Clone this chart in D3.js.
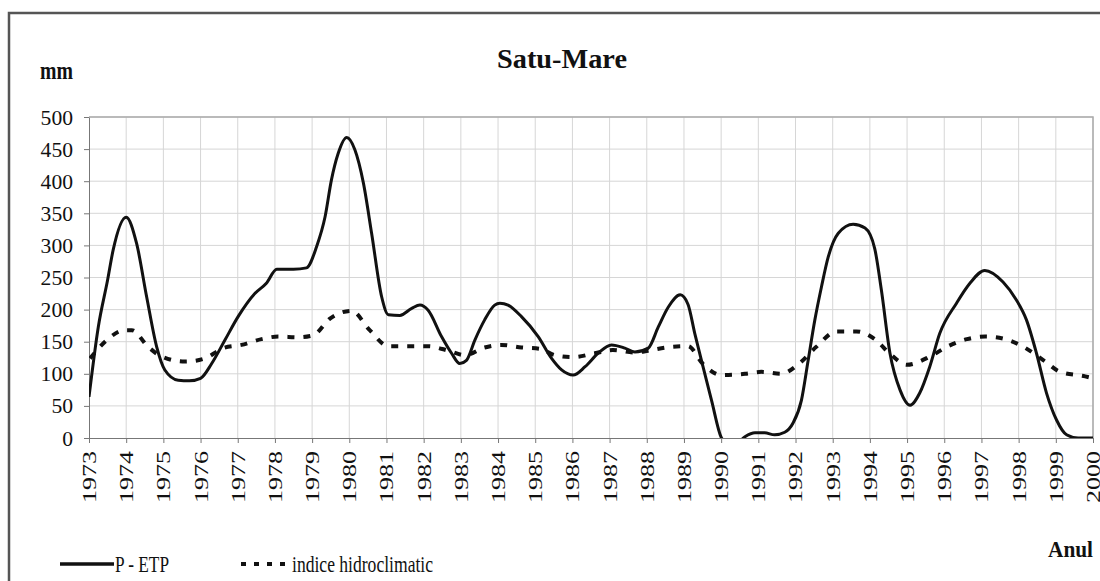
<!DOCTYPE html>
<html lang="ro">
<head>
<meta charset="UTF-8">
<title>Satu-Mare</title>
<script src="https://d3js.org/d3.v7.min.js"></script>
<style>
  body { margin: 0; background: #fff; }
  svg text { font-family: "Liberation Serif", "DejaVu Serif", serif; fill: #111; }
</style>
</head>
<body>
<div id="chart"></div>
<script>
// valori (an zecimal, mm)
const pEtpYears = [1973.00, 1973.25, 1973.50, 1973.65, 1974.00, 1974.28, 1974.55, 1974.82, 1975.04, 1975.40,
  1975.70, 1976.00, 1976.30, 1976.66, 1977.01, 1977.46, 1977.77, 1978.05, 1978.50, 1978.85,
  1979.12, 1979.35, 1979.52, 1979.70, 1979.93, 1980.15, 1980.38, 1980.60, 1980.87, 1981.05,
  1981.36, 1981.68, 1981.90, 1982.12, 1982.48, 1982.75, 1982.97, 1983.15, 1983.38, 1983.64,
  1983.91, 1984.05, 1984.27, 1984.63, 1985.08, 1985.44, 1985.71, 1986.02, 1986.34, 1986.69,
  1987.05, 1987.41, 1987.68, 1988.04, 1988.31, 1988.58, 1988.90, 1989.11, 1989.29, 1989.47,
  1989.74, 1990.01, 1990.30, 1990.64, 1990.91, 1991.17, 1991.44, 1991.71, 1991.93, 1992.16,
  1992.34, 1992.52, 1992.70, 1992.88, 1993.15, 1993.55, 1993.87, 1994.13, 1994.31, 1994.54,
  1994.81, 1995.08, 1995.34, 1995.61, 1995.88, 1996.33, 1996.69, 1997.09, 1997.58, 1997.94,
  1998.21, 1998.48, 1998.75, 1999.02, 1999.29, 1999.60, 2000.00];
const pEtpValues = [64, 173, 246, 293, 344, 303, 220, 142, 106, 90,
  89, 93, 116, 153, 189, 225, 241, 263, 263, 265,
  298, 345, 402, 443, 468, 449, 397, 319, 220, 192,
  191, 202, 207, 199, 158, 132, 116, 121, 153, 184,
  207, 210, 207, 189, 158, 124, 106, 98, 111, 132,
  145, 140, 134, 140, 173, 204, 223, 208, 163, 121,
  59, 0, -15, 2, 8, 8, 5, 9, 23, 59,
  121, 184, 236, 282, 319, 333, 327, 295, 230, 132,
  75, 51, 70, 111, 163, 210, 241, 261, 243, 215,
  184, 132, 70, 28, 5, 0, 0];

const indiceYears = [1973.03, 1973.43, 1973.97, 1974.15, 1974.59, 1974.95, 1975.58, 1976.12, 1976.61, 1977.10,
  1977.64, 1978.09, 1978.63, 1979.03, 1979.48, 1980.06, 1980.55, 1981.05, 1981.59, 1982.12,
  1982.66, 1983.11, 1983.64, 1984.09, 1984.63, 1985.12, 1985.53, 1986.02, 1986.60, 1987.09,
  1987.68, 1988.04, 1988.67, 1989.11, 1989.50, 1990.00, 1990.64, 1991.08, 1991.62, 1992.06,
  1992.56, 1993.10, 1993.64, 1994.13, 1994.58, 1994.99, 1995.62, 1996.07, 1996.61, 1997.10,
  1997.64, 1998.13, 1998.67, 1999.12, 1999.79, 2000.00];
const indiceValues = [124, 150, 168, 168, 142, 127, 119, 124, 140, 145,
  154, 158, 157, 160, 186, 198, 168, 143, 143, 143,
  136, 129, 141, 145, 141, 139, 129, 126, 132, 137,
  133, 136, 142, 143, 116, 98, 100, 103, 100, 114,
  142, 166, 166, 154, 129, 114, 127, 142, 154, 158,
  154, 142, 121, 103, 96, 93];

const yearTicks = d3.range(1973, 2001);
const yTicks = d3.range(0, 501, 50);

const W = 1100, H = 581;
const plot = { left: 89, right: 1093, top: 117, bottom: 438 };

const svg = d3.select("#chart").append("svg")
    .attr("width", W)
    .attr("height", H);

// cadrul exterior
svg.append("rect")
    .attr("x", 9).attr("y", 13)
    .attr("width", 1100).attr("height", 600)
    .attr("fill", "none")
    .attr("stroke", "#555")
    .attr("stroke-width", 2.5);

const x = d3.scaleLinear().domain([1973, 2000]).range([plot.left, plot.right]);
const y = d3.scaleLinear().domain([0, 500]).range([plot.bottom, plot.top]);

// grila
svg.append("g")
    .selectAll("line")
    .data(yTicks.slice(1))
    .join("line")
    .attr("x1", plot.left).attr("x2", plot.right)
    .attr("y1", d => y(d)).attr("y2", d => y(d))
    .attr("stroke", "#d6d6d6").attr("stroke-width", 1);

svg.append("g")
    .selectAll("line")
    .data(yearTicks.slice(1))
    .join("line")
    .attr("x1", d => x(d)).attr("x2", d => x(d))
    .attr("y1", plot.top).attr("y2", plot.bottom)
    .attr("stroke", "#d6d6d6").attr("stroke-width", 1);

// axe
const yAxis = svg.append("g")
    .attr("transform", `translate(${plot.left},0)`)
    .call(d3.axisLeft(y).tickValues(yTicks).tickSize(5).tickPadding(11));
yAxis.attr("font-family", null);
yAxis.select(".domain").attr("stroke", "#777");
yAxis.selectAll(".tick line").attr("stroke", "#777");
yAxis.selectAll(".tick text")
    .attr("font-size", 22)
    .attr("fill", "#111")
    .attr("textLength", d => String(d).length * 10.8)
    .attr("lengthAdjust", "spacingAndGlyphs");

const xAxis = svg.append("g")
    .attr("transform", `translate(0,${plot.bottom})`)
    .call(d3.axisBottom(x).tickValues(yearTicks).tickFormat(d3.format("d")).tickSize(5));
xAxis.attr("font-family", null);
xAxis.select(".domain").attr("stroke", "#777");
xAxis.selectAll(".tick line").attr("stroke", "#777");
xAxis.selectAll(".tick text")
    .attr("font-size", 19)
    .attr("fill", "#111")
    .attr("text-anchor", "end")
    .attr("transform", "rotate(-90)")
    .attr("x", -13)
    .attr("y", 0)
    .attr("dy", "0.34em")
    .attr("textLength", 52)
    .attr("lengthAdjust", "spacingAndGlyphs");

// marginea de sus / dreapta a zonei de plot
svg.append("path")
    .attr("d", `M${plot.left},${plot.top}H${plot.right}V${plot.bottom}`)
    .attr("fill", "none")
    .attr("stroke", "#aaa")
    .attr("stroke-width", 1.5);

svg.append("clipPath").attr("id", "clip")
    .append("rect")
    .attr("x", plot.left).attr("y", plot.top - 5)
    .attr("width", plot.right - plot.left + 2)
    .attr("height", plot.bottom - plot.top + 5);

const line = d3.line()
    .x(d => x(d[0]))
    .y(d => y(d[1]))
    .curve(d3.curveMonotoneX);

const pEtp = pEtpYears.map((yr, i) => [yr, pEtpValues[i]]);
const indice = indiceYears.map((yr, i) => [yr, indiceValues[i]]);

svg.append("path")
    .attr("clip-path", "url(#clip)")
    .attr("d", line(indice))
    .attr("fill", "none")
    .attr("stroke", "#111")
    .attr("stroke-width", 4)
    .attr("stroke-dasharray", "7,9");

svg.append("path")
    .attr("clip-path", "url(#clip)")
    .attr("d", line(pEtp))
    .attr("fill", "none")
    .attr("stroke", "#111")
    .attr("stroke-width", 3)
    .attr("stroke-linejoin", "round");

// titluri
svg.append("text")
    .attr("x", 562).attr("y", 68)
    .attr("text-anchor", "middle")
    .attr("font-size", 28)
    .attr("font-weight", "bold")
    .attr("textLength", 130)
    .attr("lengthAdjust", "spacingAndGlyphs")
    .text("Satu-Mare");

svg.append("text")
    .attr("x", 40).attr("y", 79)
    .attr("font-size", 26)
    .attr("font-weight", "bold")
    .attr("textLength", 33)
    .attr("lengthAdjust", "spacingAndGlyphs")
    .text("mm");

svg.append("text")
    .attr("x", 1048).attr("y", 557)
    .attr("font-size", 24)
    .attr("font-weight", "bold")
    .attr("textLength", 45)
    .attr("lengthAdjust", "spacingAndGlyphs")
    .text("Anul");

// legenda
const legendY = 564;
svg.append("line")
    .attr("x1", 60).attr("x2", 114)
    .attr("y1", legendY).attr("y2", legendY)
    .attr("stroke", "#111").attr("stroke-width", 3.5);
svg.append("text")
    .attr("x", 115).attr("y", legendY + 8)
    .attr("font-size", 23)
    .attr("textLength", 54)
    .attr("lengthAdjust", "spacingAndGlyphs")
    .text("P - ETP");

svg.append("line")
    .attr("x1", 241).attr("x2", 291)
    .attr("y1", legendY).attr("y2", legendY)
    .attr("stroke", "#111").attr("stroke-width", 4)
    .attr("stroke-dasharray", "5,8");
svg.append("text")
    .attr("x", 292).attr("y", legendY + 8)
    .attr("font-size", 23)
    .attr("textLength", 141)
    .attr("lengthAdjust", "spacingAndGlyphs")
    .text("indice hidroclimatic");
</script>
</body>
</html>
